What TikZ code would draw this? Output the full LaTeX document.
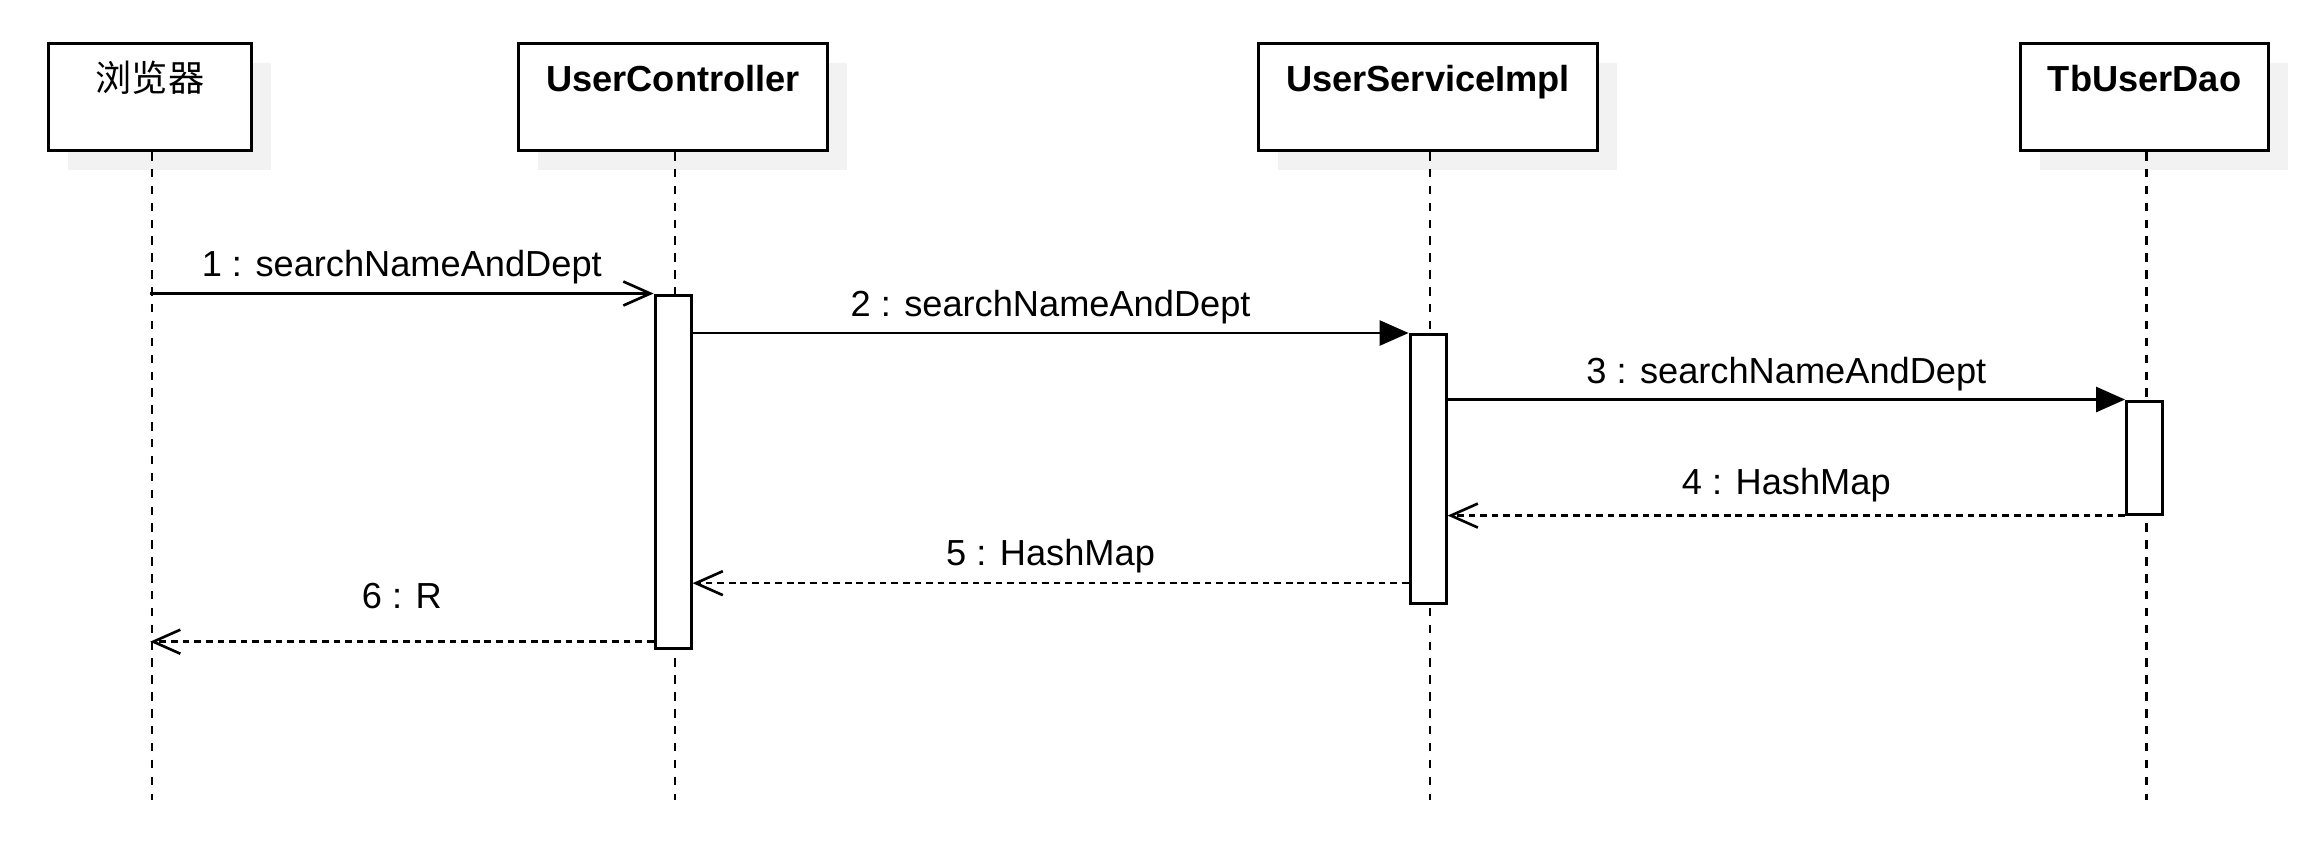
\documentclass[tikz,border=0pt]{standalone}
\usepackage{fontspec}
\setmainfont{Liberation Sans}
\newfontfamily\cjk{Noto Sans CJK SC}
\usetikzlibrary{arrows.meta,shadows}

\begin{document}
\begin{tikzpicture}[x=0.01cm,y=-0.01cm,
    every node/.style={font=\fontsize{10.3}{12}\selectfont},
    obj/.style={draw,line width=0.85pt,fill=white,anchor=north west,inner sep=0pt,
      text height=0.48cm,text depth=0.59cm,font=\fontsize{10.3}{12}\selectfont\bfseries,
      general shadow={fill=black!5,draw=none,shadow xshift=0.19cm,shadow yshift=-0.19cm}},
    bar/.style={draw,line width=0.85pt,fill=white,anchor=north,inner sep=0pt,minimum width=0.36cm},
    life/.style={line width=0.7pt,dash pattern=on 2.4pt off 2.4pt},
    call/.style={line width=0.75pt,-{Triangle[length=0.29cm,width=0.25cm]}},
    send/.style={line width=0.75pt,-{Straight Barb[length=0.27cm,width=0.24cm]}},
    ret/.style={send,dash pattern=on 1.9pt off 1.4pt},
    msg/.style={midway,yshift=#1},msg/.default=0.3cm]
  \useasboundingbox (0,0) rectangle (2324,856);
  \node[obj,minimum width=2.03cm] (ff) at (47,42) {\cjk\mdseries 浏览器};
  \node[obj,minimum width=3.09cm] (uc) at (517,42) {UserController};
  \node[obj,minimum width=3.39cm] (us) at (1257,42) {UserServiceImpl};
  \node[obj,minimum width=2.48cm] (dao) at (2019,42) {TbUserDao};
  \foreach \n in {ff,uc,us,dao}
    \draw[life] ([xshift=0.02cm]\n.south) -- ([xshift=0.02cm]\n.south |- 0,800);

  \node[bar,minimum height=3.53cm] (ucbar) at (uc.south |- 0,293.5) {};
  \node[bar,minimum height=2.69cm] (usbar) at (us.south |- 0,333) {};
  \node[bar,minimum height=1.13cm] (daobar) at (dao.south |- 0,399.5) {};
  \coordinate (r5) at ([yshift=0.22cm]usbar.south west);
  \coordinate (r6) at ([yshift=0.08cm]ucbar.south west);

  \draw[send] (ff.south |- ucbar.north) -- (ucbar.north west) node[msg=0.26cm] (l1) {1 : searchNameAndDept};
  \draw[call] (ucbar.east |- usbar.north) -- (usbar.north west) node[msg=0.26cm] (l2) {2 : searchNameAndDept};
  \draw[call] (usbar.east |- daobar.north) -- (daobar.north west) node[msg=0.25cm] (l3) {3 : searchNameAndDept};
  \draw[ret] (daobar.south west) -- (usbar.east |- daobar.south) node[msg] (l4) {4 : HashMap};
  \draw[ret] (r5) -- (ucbar.east |- r5) node[msg=0.27cm] (l5) {5 : HashMap};
  \draw[ret] (r6) -- (ff.south |- r6) node[msg=0.46cm] (l6) {6 : R};
\end{tikzpicture}
\end{document}
